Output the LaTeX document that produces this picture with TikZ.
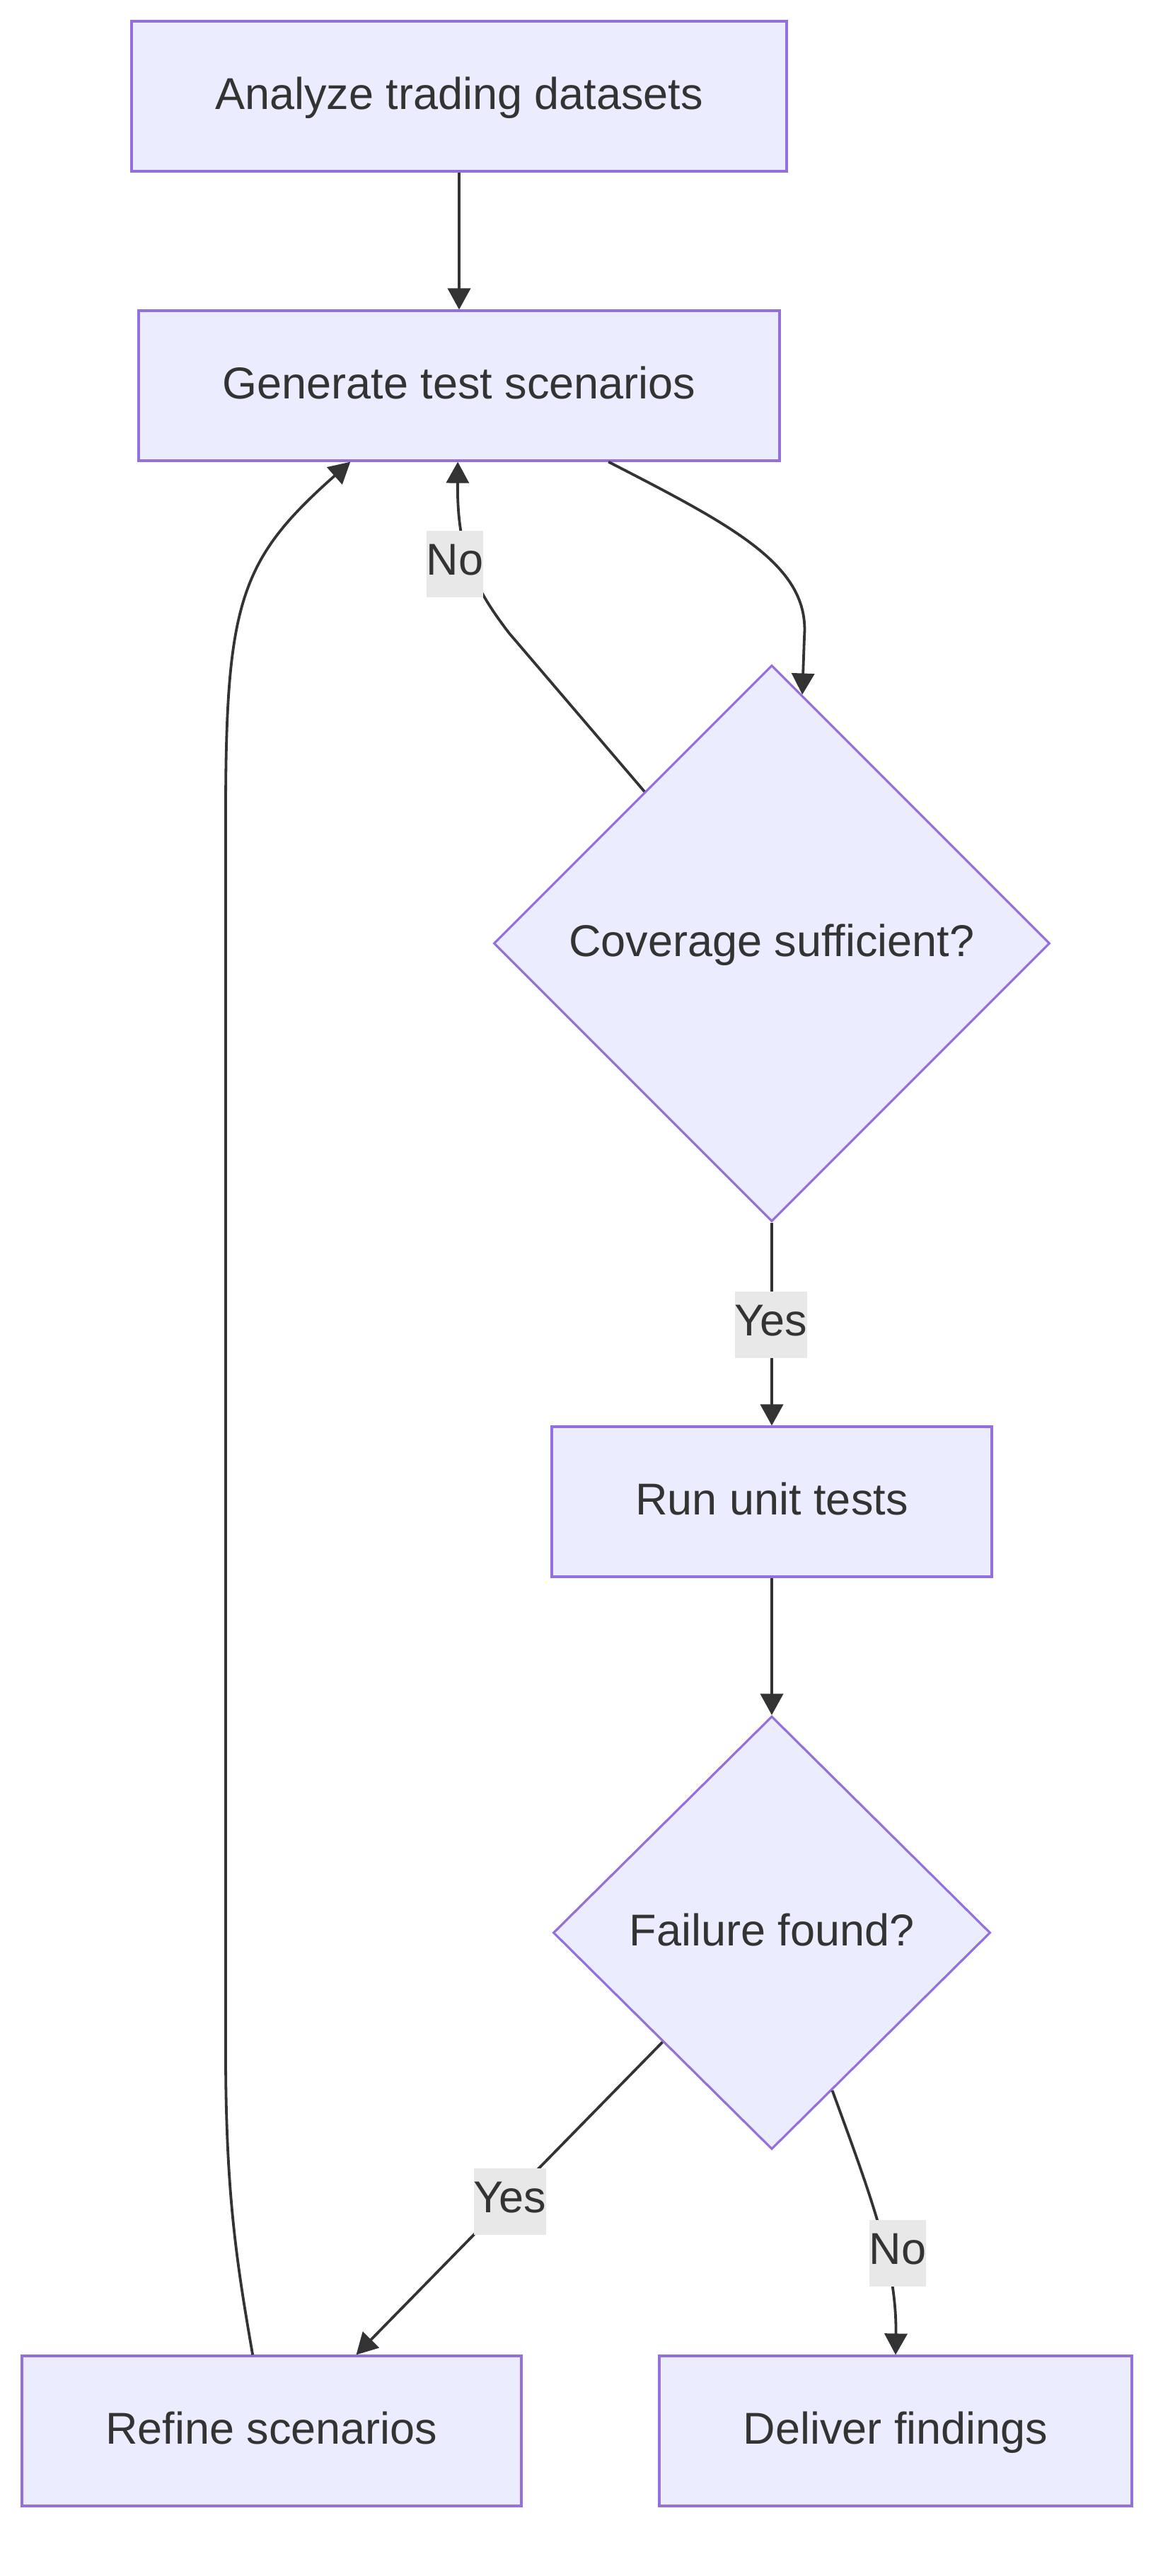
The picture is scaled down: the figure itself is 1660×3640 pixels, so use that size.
\documentclass[tikz,border=0pt]{standalone}
\usepackage{fontspec}
\setmainfont{Liberation Sans}
\usetikzlibrary{arrows.meta,shapes.geometric}
\definecolor{nodefill}{HTML}{ECECFF}
\definecolor{nodeline}{HTML}{9370DB}
\definecolor{edgecol}{HTML}{333333}
\definecolor{lblfill}{HTML}{E8E8E8}
\begin{document}
\begin{tikzpicture}[x=1pt,y=-1pt,
  txt/.style={text=edgecol, font=\fontsize{63}{75}\selectfont},
  box/.style={txt, draw=nodeline, fill=nodefill, line width=3.2pt, rectangle,
    minimum height=212pt, inner sep=0pt, text height=45pt, text depth=9pt},
  dec/.style={txt, draw=nodeline, fill=nodefill, line width=3.2pt, diamond,
    inner sep=0pt, text height=45pt, text depth=9pt},
  lbl/.style={txt, fill=lblfill, inner xsep=0pt, inner ysep=0pt, minimum height=94pt,
    text height=45pt, text depth=15pt},
  ln/.style={draw=edgecol, line width=3.8pt},
  arr/.style={ln, -{Triangle[length=30pt,width=32pt]}}]
\fill[white] (0,0) rectangle (1660,3640);
\useasboundingbox (0,0) rectangle (1660,3640);

\node[box, minimum width=926pt] (A) at (649,136) {Analyze trading datasets};
\node[box, minimum width=906pt] (G) at (649,545) {Generate test scenarios};
\node[dec, minimum width=786pt, minimum height=786pt] (C) at (1091,1333) {Coverage sufficient?};
\node[box, minimum width=622pt] (R) at (1091,2122) {Run unit tests};
\node[dec, minimum width=618pt, minimum height=612pt] (F) at (1091,2731) {Failure found?};
\node[box, minimum width=706pt] (Ref) at (384,3435) {Refine scenarios};
\node[box, minimum width=668pt] (D) at (1266,3435) {Deliver findings};

\draw[arr] (A) -- (G);
\draw[arr] (G.333) .. controls (1040,745) and (1145,800) .. (1137,900) -- (C.83);
\draw[arr] (C.130.3) -- (720,895) .. controls (670,830) and (646,780) .. (G.269);
\draw[arr] (C) -- (R);
\draw[arr] (R) -- (F);
\draw[arr] (F.225.6) -- (Ref.42.4);
\draw[arr] (F.291.9) .. controls (1230,3100) and (1268,3200) .. (D.north);
\draw[arr] (Ref.104.8) .. controls (335,3200) and (319,3100) .. (319,2900) -- (319,1150)
  .. controls (319,850) and (340,790) .. (G.215.7);

\node[lbl] (l1) at (643,797) {No};
\node[lbl] (l2) at (1090,1872) {Yes};
\node[lbl] (l3) at (721,3111) {Yes};
\node[lbl] (l4) at (1269,3184) {No};
\end{tikzpicture}
\end{document}
